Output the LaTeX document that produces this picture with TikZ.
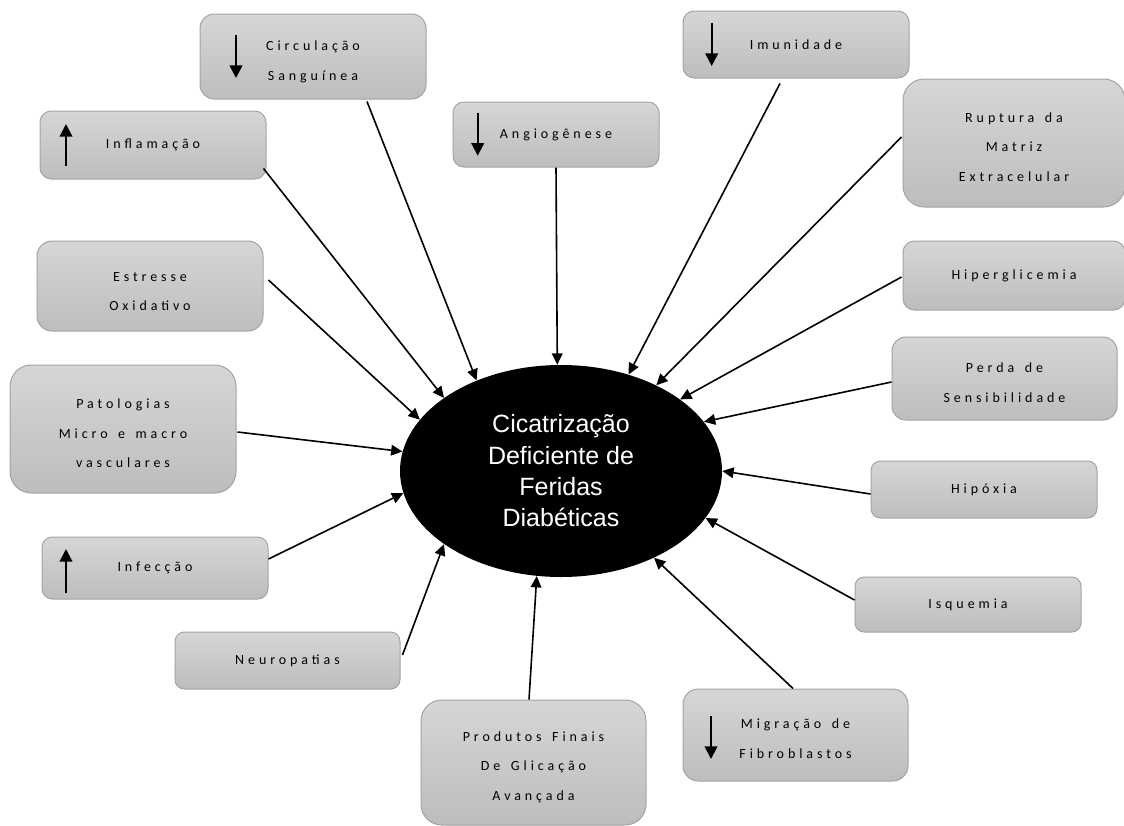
\documentclass[tikz,border=0pt]{standalone}
\usepackage{fontspec}
\setmainfont{Carlito}
\newfontfamily\boxfont{Carlito}[LetterSpace=28]
\newfontfamily\ellfont{Liberation Sans}
\usetikzlibrary{arrows.meta,shapes.geometric}
\definecolor{boxtop}{HTML}{D6D6D6}
\definecolor{boxbot}{HTML}{BDBDBD}
\definecolor{boxedge}{HTML}{A3A3A3}
\newcommand\wgap{\hspace{0.75em}}
\newcommand\firstup[1]{\rule{0pt}{#1pt}}
\begin{document}
\begin{tikzpicture}[x=0.75pt,y=-0.75pt,
 box/.style n args={3}{draw=boxedge, line width=0.75pt, top color=boxtop, bottom color=boxbot,
   minimum width=#1pt, minimum height=#2pt, rounded corners=#3pt, inner sep=0pt,
   align=center, text=black, font=\boxfont\fontsize{10.5}{22.2}\selectfont},
 conn/.style={line width=1.2pt, -{Triangle[length=8.5pt,width=8pt]}},
 icon/.style={line width=1.5pt, -{Triangle[length=9.5pt,width=9.5pt]}},
 hub/.style={ellipse, fill=black, minimum width=241.5pt, minimum height=159pt, inner sep=0pt,
   align=center, text=white, font=\ellfont\fontsize{18.75}{23.5}\selectfont}
]
\useasboundingbox (0,0) rectangle (1124,825);

\node[box={169.5}{63.75}{10.6}] (circ) at (313,56.5) {\firstup{15}Circulação\\Sanguínea};
\node[box={169.5}{51}{8.5}] (infl) at (153,145) {Inflamação};
\node[box={169.5}{67.5}{11.25}] (estr) at (150,286) {\firstup{15}Estresse\\Oxidativo};
\node[box={154.5}{48.75}{8.1}] (angio) at (556,134.5) {Angiogênese};
\node[box={169.5}{50.25}{8.4}] (imun) at (796,44.5) {Imunidade};
\node[box={166.5}{96}{16}] (rupt) at (1014,143) {\firstup{13.5}Ruptura\wgap da\\Matriz\\Extracelular};
\node[box={166.5}{51.75}{8.6}] (hiper) at (1014,275.5) {Hiperglicemia};
\node[box={168.75}{62.25}{10.4}] (perda) at (1004.5,378.5) {\firstup{14}Perda\wgap de\\Sensibilidade};
\node[box={169.5}{42.75}{7.1}] (hipox) at (984,489.5) {Hipóxia};
\node[box={169.5}{41.25}{6.9}] (isq) at (968,604.5) {Isquemia};
\node[box={168.75}{69}{11.5}] (migr) at (795.5,735) {\firstup{13}Migração\wgap de\\Fibroblastos};
\node[box={168.75}{93.75}{15.6}] (prod) at (533.5,762.5) {\firstup{14}Produtos\wgap Finais\\De\wgap Glicação\\Avançada};
\node[box={168.75}{42.75}{7.1}] (neuro) at (287.5,660.5) {Neuropatias};
\node[box={169.5}{46.5}{7.75}] (infec) at (155,568) {Infecção};
\node[box={169.5}{96}{16}] (pato) at (123,429) {\firstup{14}Patologias\\Micro\wgap e\wgap macro\\vasculares};

\node[hub] (hub) at (561,471) {Cicatrização\\Deficiente de\\Feridas\\Diabéticas};

% icons inside boxes
\draw[icon] (236,35) -- (236,78);
\draw[icon] (66,166) -- (66,124);
\draw[icon] (477.7,112.7) -- (477.7,155.7);
\draw[icon] (711.7,22.7) -- (711.7,66);
\draw[icon] (66,593) -- (66,549);
\draw[icon] (711,716) -- (711,759);

% connectors
\draw[conn] ([shift={(54,2)}]circ.south) -- (hub.133.3);
\draw[conn] ([shift={(-3,-11)}]infl.south east) -- (hub.148.3);
\draw[conn] ([shift={(5,-6)}]estr.east) -- (hub.160.4);
\draw[conn] (angio.south) -- (hub.92.7);
\draw[conn] ([shift={(-16,5)}]imun.south) -- (hub.55.6);
\draw[conn] ([shift={(-1,-6)}]rupt.west) -- (hub.42.5);
\draw[conn] ([shift={(-1,1.5)}]hiper.west) -- (hub.31.2);
\draw[conn] ([shift={(0,3.5)}]perda.west) -- (hub.19.4);
\draw[conn] ([shift={(0,4.5)}]hipox.west) -- (hub.0.4);
\draw[conn] ([shift={(0,-4.5)}]isq.west) -- (hub.342.7);
\draw[conn] ([shift={(-2.5,0)}]migr.north) -- (hub.317.5);
\draw[conn] ([shift={(-4.5,0)}]prod.north) -- (hub.257.4);
\draw[conn] ([shift={(2,-5.5)}]neuro.east) -- (hub.212.7);
\draw[conn] ([shift={(0,-9)}]infec.east) -- (hub.188.5);
\draw[conn] ([shift={(1,3)}]pato.east) -- (hub.173.4);
\end{tikzpicture}
\end{document}
